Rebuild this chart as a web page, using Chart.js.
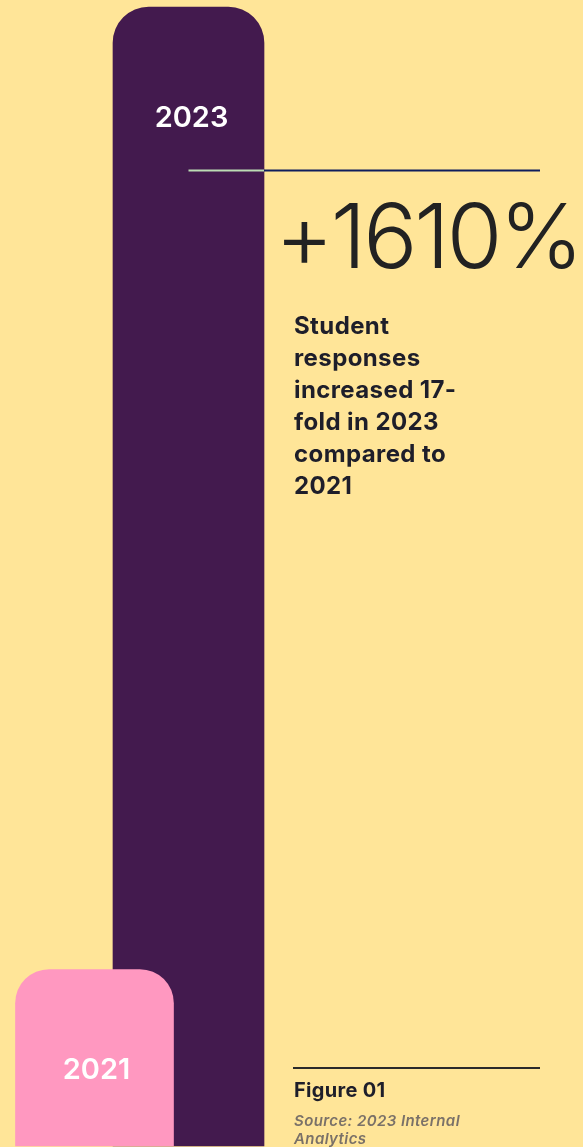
<!DOCTYPE html>
<html>
<head>
<meta charset="utf-8">
<script src="https://cdn.jsdelivr.net/npm/chart.js@4.4.0/dist/chart.umd.min.js"></script>
<style>
  html, body { margin: 0; padding: 0; background: #ffe598; }
  #wrap { position: relative; width: 583px; height: 1147px; overflow: hidden; }
  canvas { position: absolute; left: 0; top: 0; }
  .txt { position: absolute; font-family: Inter, "Noto Sans", sans-serif; color: #1e1e2a; }
  #big { left: 275px; top: 186px; font-size: 90px; font-weight: 300; letter-spacing: -3px; line-height: 100px; color: #222; }
  #desc { left: 294px; top: 310px; width: 182px; font-size: 24px; font-weight: 700; line-height: 32px; letter-spacing: 0.4px; }
  #fig { left: 294px; top: 1078px; font-size: 20px; font-weight: 700; letter-spacing: 0.3px; }
  #src { left: 294px; top: 1112px; width: 210px; font-size: 15px; font-style: italic; font-weight: 600; line-height: 18px; letter-spacing: 0.4px; color: #7a7168; }
  #rule { position: absolute; left: 293px; top: 1067px; width: 247px; height: 2px; background: #2a2a2a; }
</style>
</head>
<body>
<div id="wrap">
  <canvas id="chart" width="583" height="1147"></canvas>
  <div class="txt" id="big">+1610%</div>
  <div class="txt" id="desc">Student responses increased 17-fold in 2023 compared to 2021</div>
  <div id="rule"></div>
  <div class="txt" id="fig">Figure 01</div>
  <div class="txt" id="src">Source: 2023 Internal Analytics</div>
</div>
<script>
// bar heights, as % of the tallest bar
const years = ['2021', '2023']
const responses2021 = [15.5, null]
const responses2023 = [null, 100]
const barColors = ['#ff98c0', '#431a4e']

// labels inside the bars + the marker line off the 2023 bar
const barText = {
  id: 'barText',
  afterDatasetsDraw(chart) {
    const ctx = chart.ctx
    const b21 = chart.getDatasetMeta(0).data[0]
    const b23 = chart.getDatasetMeta(1).data[1]

    // line: light over the bar, dark over the background
    const ly = b23.y + 163.5
    ctx.save()
    ctx.lineWidth = 2
    ctx.strokeStyle = '#0f1d5c'
    ctx.beginPath(); ctx.moveTo(b23.x + b23.width / 2, ly); ctx.lineTo(540, ly); ctx.stroke()
    ctx.strokeStyle = '#bcdcb4'
    ctx.beginPath(); ctx.moveTo(b23.x, ly); ctx.lineTo(b23.x + b23.width / 2, ly); ctx.stroke()

    ctx.fillStyle = '#ffffff'
    ctx.font = '600 29px Inter, "Noto Sans", sans-serif'
    ctx.textAlign = 'center'
    ctx.textBaseline = 'middle'
    ctx.fillText(years[1], b23.x + 3, b23.y + 111)
    ctx.fillText(years[0], b21.x + 2, b21.y + 101)
    ctx.restore()
  }
}

new Chart(document.getElementById('chart'), {
  type: 'bar',
  data: {
    labels: years,
    datasets: [
      {
        data: responses2021,
        backgroundColor: barColors[0],
        barThickness: 158,
        borderRadius: { topLeft: 34, topRight: 34 },
        borderSkipped: 'bottom',
        grouped: false,
        clip: false
      },
      {
        data: responses2023,
        backgroundColor: barColors[1],
        barThickness: 151,
        borderRadius: { topLeft: 36, topRight: 36 },
        borderSkipped: 'bottom',
        grouped: false,
        clip: false
      }
    ]
  },
  options: {
    responsive: false,
    animation: false,
    layout: { padding: { left: 47.5, right: 347.5, top: 7, bottom: 1 } },
    scales: {
      x: { display: false },
      y: { display: false, min: 0, max: 100 }
    },
    plugins: {
      legend: { display: false },
      tooltip: { enabled: false }
    }
  },
  plugins: [barText]
})
</script>
</body>
</html>
